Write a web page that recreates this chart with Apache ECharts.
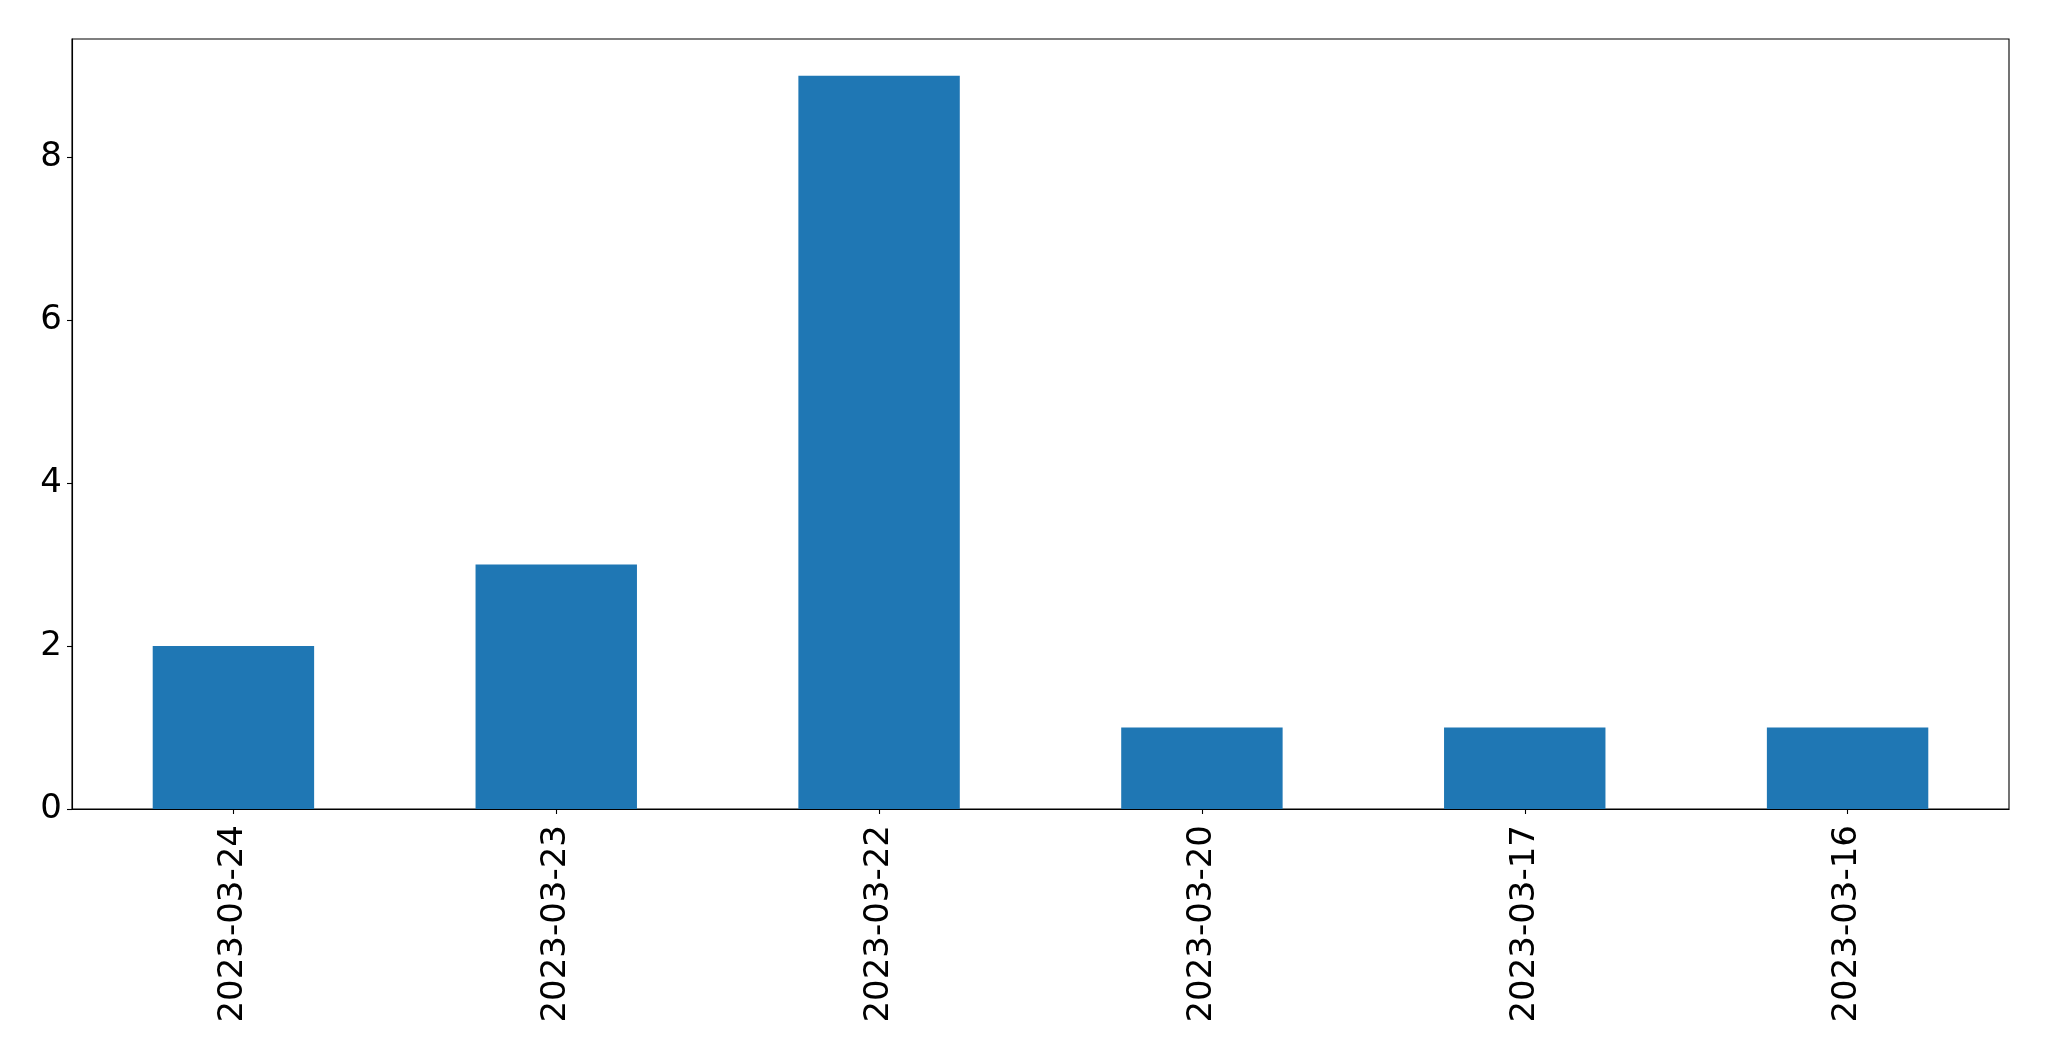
<!DOCTYPE html>
<html>
<head>
<meta charset="utf-8">
<script src="https://cdn.jsdelivr.net/npm/echarts@6/dist/echarts.min.js"></script>
<style>
html,body{margin:0;padding:0;background:#fff;}
#chart{width:2049px;height:1061px;}
</style>
</head>
<body>
<div id="chart"></div>
<script>
const categories = ["2023-03-24","2023-03-23","2023-03-22","2023-03-20","2023-03-17","2023-03-16"];
const values = [2, 3, 9, 1, 1, 1];
const yTicks = [0, 2, 4, 6, 8];
const yMax = 9.45;

const chart = echarts.init(document.getElementById('chart'), null, {renderer: 'canvas'});
const font = 'DejaVu Sans';
chart.setOption({
  animation: false,
  backgroundColor: '#ffffff',
  grid: {
    left: 72, right: 40, top: 39, bottom: 252,
    show: true, borderColor: '#000', borderWidth: 1.1, backgroundColor: 'transparent'
  },
  xAxis: {
    type: 'category',
    data: categories,
    axisLine: {show: true, lineStyle: {color: '#000', width: 1.1}},
    axisTick: {show: true, alignWithLabel: true, length: 5, lineStyle: {color: '#000', width: 1.1}},
    axisLabel: {rotate: 90, margin: 16, fontSize: 34, fontFamily: font, color: '#000', interval: 0},
    splitLine: {show: false}
  },
  yAxis: {
    type: 'value',
    min: 0, max: yMax, interval: 2,
    axisLine: {show: true, lineStyle: {color: '#000', width: 1.1}},
    axisTick: {show: true, length: 5, customValues: yTicks, lineStyle: {color: '#000', width: 1.1}},
    axisLabel: {margin: 10, fontSize: 34, fontFamily: font, color: '#000', customValues: yTicks, padding: [6, 0, 0, 0]},
    splitLine: {show: false}
  },
  series: [{
    type: 'bar',
    data: values,
    barWidth: '50%',
    itemStyle: {color: '#1f77b4'}
  }]
});
</script>
</body>
</html>
